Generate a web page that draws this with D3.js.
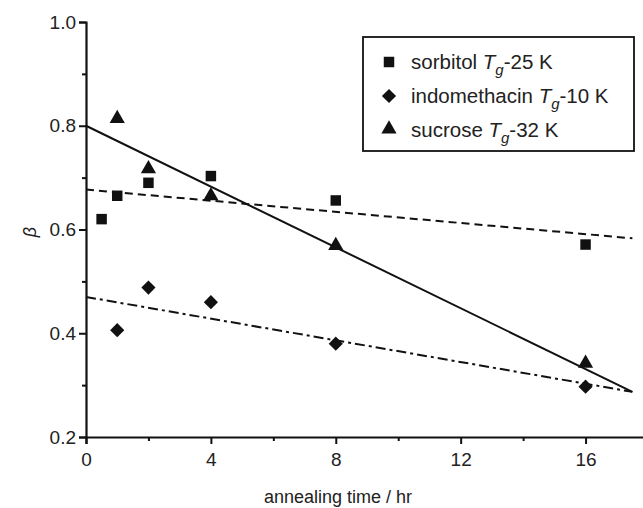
<!DOCTYPE html>
<html>
<head>
<meta charset="utf-8">
<script src="https://cdn.jsdelivr.net/npm/d3@7/dist/d3.min.js"></script>
<style>
  html, body { margin: 0; padding: 0; background: #fff; }
  svg { display: block; font-family: "Liberation Sans", Arial, sans-serif; }
</style>
</head>
<body>
<svg id="chart" width="643" height="508"></svg>
<script>
// Stretch exponent beta versus annealing time
const sorbitolTime = [0.5, 1, 2, 4, 8, 16];
const sorbitolBeta = [0.620, 0.665, 0.690, 0.703, 0.656, 0.571];

const indoTime = [1, 2, 4, 8, 16];
const indoBeta = [0.406, 0.488, 0.460, 0.380, 0.297];

const sucroseTime = [1, 2, 4, 8, 16];
const sucroseBeta = [0.812, 0.715, 0.663, 0.567, 0.340];

// linear fits: [beta at t=0, beta at t=17.5]
const fitTime = [0, 17.5];
const sorbitolFit = [0.677, 0.583];
const indoFit = [0.470, 0.287];
const sucroseFit = [0.800, 0.287];

const xTicks = [0, 4, 8, 12, 16];
const xMinor = [2, 6, 10, 14];
const yTicks = [0.2, 0.4, 0.6, 0.8, 1.0];
const yMinor = [0.3, 0.5, 0.7, 0.9];

const legendLabels = [
  { name: "sorbitol ", tail: "-25 K", shape: "square" },
  { name: "indomethacin ", tail: "-10 K", shape: "diamond" },
  { name: "sucrose ", tail: "-32 K", shape: "triangle" }
];

const svg = d3.select("#chart");
const x = d3.scaleLinear().domain([0, 18]).range([86, 648]);
const y = d3.scaleLinear().domain([0.2, 1.0]).range([437, 22]);

const ink = "#111";

// fitted lines
const line = d3.line().x(d => x(d[0])).y(d => y(d[1]));
const fits = [
  { vals: sorbitolFit, dash: "8,5" },
  { vals: indoFit, dash: "10,4,3,4" },
  { vals: sucroseFit, dash: null }
];
fits.forEach(f => {
  svg.append("path")
    .attr("d", line(d3.zip(fitTime, f.vals)))
    .attr("fill", "none")
    .attr("stroke", ink)
    .attr("stroke-width", 2)
    .attr("stroke-dasharray", f.dash);
});

// marker symbols
const sym = {
  square: d3.symbol().type(d3.symbolSquare).size(110),
  diamond: d3.symbol().type(d3.symbolSquare).size(100),
  triangle: d3.symbol().type(d3.symbolTriangle).size(100)
};
function marker(g, shape, cx, cy) {
  const p = g.append("path")
    .attr("d", sym[shape]())
    .attr("fill", ink);
  if (shape === "diamond") p.attr("transform", `translate(${cx},${cy}) rotate(45)`);
  else if (shape === "triangle") p.attr("transform", `translate(${cx},${cy - 1})`);
  else p.attr("transform", `translate(${cx},${cy})`);
}
const pts = svg.append("g");
d3.zip(sorbitolTime, sorbitolBeta).forEach(d => marker(pts, "square", x(d[0]), y(d[1])));
d3.zip(indoTime, indoBeta).forEach(d => marker(pts, "diamond", x(d[0]), y(d[1])));
d3.zip(sucroseTime, sucroseBeta).forEach(d => marker(pts, "triangle", x(d[0]), y(d[1])));

// axes
const xAxis = svg.append("g").attr("transform", `translate(0,${y(0.2)})`)
  .call(d3.axisBottom(x).tickValues(xTicks).tickSize(7).tickPadding(6).tickFormat(d3.format("d")));
const xAxisMinor = svg.append("g").attr("transform", `translate(0,${y(0.2)})`)
  .call(d3.axisBottom(x).tickValues(xMinor).tickSize(4).tickFormat(""));
const yAxis = svg.append("g").attr("transform", `translate(${x(0)},0)`)
  .call(d3.axisLeft(y).tickValues(yTicks).tickSize(7).tickPadding(3).tickFormat(d3.format(".1f")));
const yAxisMinor = svg.append("g").attr("transform", `translate(${x(0)},0)`)
  .call(d3.axisLeft(y).tickValues(yMinor).tickSize(4).tickFormat(""));

[xAxis, xAxisMinor, yAxis, yAxisMinor].forEach(a => {
  a.select(".domain").attr("stroke", ink).attr("stroke-width", 2.2);
  a.selectAll(".tick line").attr("stroke", ink).attr("stroke-width", 2);
  a.selectAll(".tick text").attr("fill", "#222").style("font-size", "19px");
});
xAxisMinor.select(".domain").remove();
yAxisMinor.select(".domain").remove();
xAxis.selectAll(".tick text").attr("dy", "0.85em");

// axis titles
svg.append("text")
  .attr("x", 338).attr("y", 503)
  .attr("text-anchor", "middle")
  .style("font-size", "18px").attr("fill", "#222")
  .text("annealing time / hr");
svg.append("text")
  .attr("transform", `translate(36,232) rotate(-90)`)
  .attr("text-anchor", "middle")
  .style("font-size", "18px").style("font-style", "italic").attr("fill", "#222")
  .text("β");

// legend
const lg = svg.append("g");
lg.append("rect")
  .attr("x", 363).attr("y", 37).attr("width", 271).attr("height", 114)
  .attr("fill", "#fff").attr("stroke", ink).attr("stroke-width", 1.8);
legendLabels.forEach((d, i) => {
  const cy = 62 + i * 34;
  marker(lg, d.shape, 389, cy);
  const t = lg.append("text")
    .attr("x", 411).attr("y", cy + 7)
    .style("font-size", "20.5px").attr("fill", "#222");
  t.append("tspan").text(d.name);
  t.append("tspan").style("font-style", "italic").text("T");
  t.append("tspan").style("font-style", "italic").style("font-size", "15px").attr("dy", 6).text("g");
  t.append("tspan").attr("dy", -6).text(d.tail);
});
</script>
</body>
</html>
